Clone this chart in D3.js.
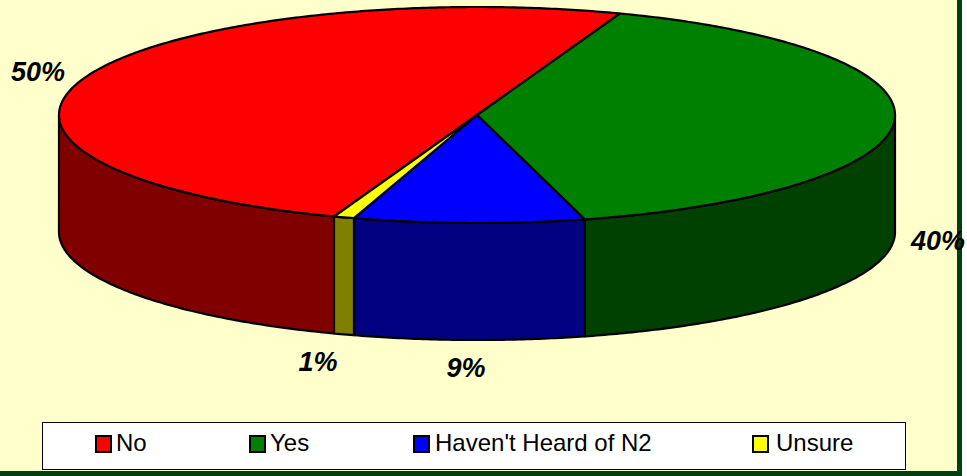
<!DOCTYPE html>
<html><head><meta charset="utf-8">
<script src="https://cdnjs.cloudflare.com/ajax/libs/d3/7.8.5/d3.min.js"></script>
<style>html,body{margin:0;padding:0;background:#fff}svg{display:block}</style>
</head><body><svg id="c" width="967" height="476"></svg>
<script>
const categories=["No","Yes","Haven't Heard of N2","Unsure"];
const values=[50,40.3,8.9,0.8];
const labels=["50%","40%","9%","1%"];
const topColors=["#ff0000","#008000","#0000ff","#ffff00"];
const sideColors=["#800000","#004000","#000080","#808000"];
const W=962,H=476;
const svg=d3.select("#c");
svg.append("rect").attr("width",W).attr("height",471).attr("fill","#ffffcc");
svg.append("rect").attr("x",957).attr("width",5).attr("height",H).attr("fill","#003f0f");
svg.append("rect").attr("y",471).attr("width",W).attr("height",5).attr("fill","#003f0f");
const cx=477,cy=115,rx=418,ry=108,depth=117;
const sx=d3.scaleLinear().domain([-1,1]).range([cx-rx,cx+rx]);
const sy=d3.scaleLinear().domain([-1,1]).range([cy-ry,cy+ry]);
const start=-160*Math.PI/180;
const arcs=d3.pie().sort(null).startAngle(start).endAngle(start+2*Math.PI)(values);
const px=a=>sx(Math.sin(a)),py=a=>sy(-Math.cos(a));
const line=d3.line();
function samples(a0,a1){const n=Math.max(2,Math.ceil(Math.abs(a1-a0)/0.01));return d3.range(n+1).map(i=>a0+(a1-a0)*i/n);}
const g=svg.append("g").attr("stroke","#000").attr("stroke-width",2.2).attr("stroke-linejoin","round");
arcs.forEach((d,i)=>{
  const ranges=[0,2*Math.PI,-2*Math.PI].map(o=>[Math.max(d.startAngle+o,Math.PI/2),Math.min(d.endAngle+o,3*Math.PI/2)]);
  ranges.forEach(([a,b])=>{
    if(b<=a)return;
    const s=samples(a,b);
    const pts=s.map(t=>[px(t),py(t)]).concat(s.slice().reverse().map(t=>[px(t),py(t)+depth]));
    g.append("path").attr("d",line(pts)+"Z").attr("fill",sideColors[i]);
  });
});
arcs.forEach((d,i)=>{
  const pts=[[sx(0),sy(0)]].concat(samples(d.startAngle,d.endAngle).map(t=>[px(t),py(t)]));
  g.append("path").attr("d",line(pts)+"Z").attr("fill",topColors[i]);
});
const labelPos=[[38,71],[938,240],[466,367],[318,361]];
svg.append("g").selectAll("text").data(labels).join("text")
 .attr("x",(d,i)=>labelPos[i][0]).attr("y",(d,i)=>labelPos[i][1])
 .attr("text-anchor","middle").attr("dy","0.36em")
 .attr("font-family","Liberation Sans").attr("font-weight","bold").attr("font-style","italic")
 .attr("font-size",27).attr("fill","#000").text(d=>d);
svg.append("rect").attr("x",42.5).attr("y",422.5).attr("width",863).attr("height",47).attr("fill","#fff").attr("stroke","#000");
const swatchX=[96,250,414,753],textX=[116,270,435,776];
const lg=svg.append("g").selectAll("g").data(categories).join("g");
lg.append("rect").attr("x",(d,i)=>swatchX[i]).attr("y",436).attr("width",15).attr("height",16)
 .attr("fill",(d,i)=>topColors[i]).attr("stroke","#000").attr("stroke-width",2);
lg.append("text").attr("x",(d,i)=>textX[i]).attr("y",451).attr("font-family","Liberation Sans").attr("font-size",24).attr("fill","#000").text(d=>d);
</script></body></html>
